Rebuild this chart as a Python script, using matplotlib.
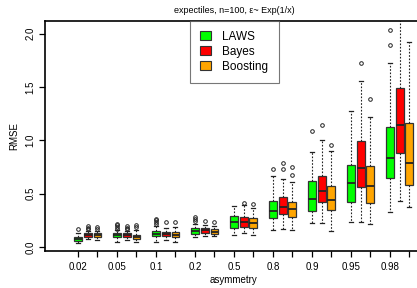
import matplotlib
matplotlib.use('Agg')
import matplotlib.pyplot as plt
from matplotlib.patches import Patch

asym = ['0.02', '0.05', '0.1', '0.2', '0.5', '0.8', '0.9', '0.95', '0.98']
methods = ['LAWS', 'Bayes', 'Boosting']
colors = ['#00ff00', '#ff0000', '#ffa500']

# box stats: lower whisker, q1, median, q3, upper whisker, outliers
laws_lo = [0.035, 0.047, 0.05, 0.097, 0.112, 0.16, 0.222, 0.231, 0.325]
laws_q1 = [0.056, 0.09, 0.106, 0.12, 0.181, 0.275, 0.34, 0.419, 0.65]
laws_med = [0.075, 0.11, 0.125, 0.153, 0.234, 0.34, 0.453, 0.597, 0.831]
laws_q3 = [0.097, 0.128, 0.15, 0.18, 0.288, 0.434, 0.616, 0.771, 1.128]
laws_hi = [0.128, 0.16, 0.2, 0.215, 0.387, 0.665, 0.893, 1.277, 1.727]
laws_out = [[0.166], [0.17, 0.19, 0.205, 0.22], [0.215, 0.235, 0.25, 0.262],
            [0.245, 0.265, 0.28], [], [0.73], [1.087], [], [1.893, 2.034]]

bayes_lo = [0.072, 0.066, 0.066, 0.1, 0.134, 0.166, 0.228, 0.234, 0.428]
bayes_q1 = [0.097, 0.09, 0.106, 0.128, 0.19, 0.309, 0.42, 0.565, 0.878]
bayes_med = [0.11, 0.11, 0.125, 0.155, 0.234, 0.378, 0.528, 0.743, 1.143]
bayes_q3 = [0.128, 0.134, 0.144, 0.178, 0.284, 0.469, 0.665, 0.993, 1.493]
bayes_hi = [0.15, 0.15, 0.18, 0.21, 0.39, 0.634, 1.0, 1.556, 2.3]
bayes_out = [[0.165, 0.18, 0.2], [0.165, 0.18, 0.2], [0.23], [0.246], [0.415],
             [0.73, 0.784], [1.143], [1.727], []]

boost_lo = [0.066, 0.047, 0.05, 0.1, 0.112, 0.16, 0.15, 0.212, 0.378]
boost_q1 = [0.09, 0.075, 0.09, 0.125, 0.175, 0.278, 0.347, 0.415, 0.581]
boost_med = [0.11, 0.09, 0.115, 0.145, 0.222, 0.353, 0.437, 0.572, 0.784]
boost_q3 = [0.128, 0.11, 0.14, 0.169, 0.269, 0.425, 0.575, 0.762, 1.159]
boost_hi = [0.15, 0.16, 0.19, 0.2, 0.37, 0.606, 0.903, 1.221, 1.924]
boost_out = [[0.17, 0.19], [0.19, 0.21], [0.235], [0.23], [0.40],
             [0.675, 0.753], [0.956], [1.384], []]

series = [
    (laws_lo, laws_q1, laws_med, laws_q3, laws_hi, laws_out),
    (bayes_lo, bayes_q1, bayes_med, bayes_q3, bayes_hi, bayes_out),
    (boost_lo, boost_q1, boost_med, boost_q3, boost_hi, boost_out),
]

plt.rcParams['font.family'] = ['Liberation Sans', 'DejaVu Sans']

fig = plt.figure(figsize=(4.17, 2.88), dpi=100)
ax = fig.add_axes([45 / 417, 37 / 288, 378 / 417, 230 / 288])

for j, (lo, q1, med, q3, hi, out) in enumerate(series):
    stats = []
    for k in range(len(asym)):
        stats.append({'whislo': lo[k], 'q1': q1[k], 'med': med[k], 'q3': q3[k],
                      'whishi': hi[k], 'fliers': out[k]})
    pos = [4 * k + j for k in range(len(asym))]
    ax.bxp(stats, positions=pos, widths=0.8, capwidths=0.4, patch_artist=True,
           showfliers=True, manage_ticks=False,
           boxprops=dict(facecolor=colors[j], edgecolor='#333333', linewidth=0.9),
           medianprops=dict(color='#222222', linewidth=1.3),
           whiskerprops=dict(color='#222222', linewidth=0.8, linestyle=(0, (1.5, 1.5))),
           capprops=dict(color='#222222', linewidth=0.9),
           flierprops=dict(marker='o', markersize=2.6, markerfacecolor='none',
                           markeredgecolor='#222222', markeredgewidth=0.7))

ax.set_xlim(-3.38, 35.4)
ax.set_ylim(-0.0375, 2.118)
ax.set_xticks(range(0, 36, 2))
ax.set_xticklabels([asym[t // 4] if t % 4 == 0 else '' for t in range(0, 36, 2)])
ax.set_yticks([0.0, 0.5, 1.0, 1.5, 2.0])
ax.set_yticklabels(['0.0', '0.5', '1.0', '1.5', '2.0'], rotation=90, va='center')
ax.tick_params(axis='both', direction='out', length=4, width=0.9, labelsize=7, pad=3)
ax.tick_params(axis='x', pad=4)
for s in ax.spines.values():
    s.set_linewidth(1.2)

ax.set_xlabel('asymmetry', fontsize=7, labelpad=2)
ax.set_ylabel('RMSE', fontsize=7, labelpad=4)
ax.set_title('expectiles, n=100, \u03b5~ Exp(1/x)', fontsize=6.5, pad=6)

handles = [Patch(facecolor=c, edgecolor='#333333', linewidth=0.8) for c in colors]
leg = ax.legend(handles, methods, loc='upper left', bbox_to_anchor=(0.3836, 1.0),
                fontsize=8.5, frameon=True, fancybox=False, borderaxespad=0,
                handlelength=0.9, handleheight=0.8, handletextpad=1.0,
                labelspacing=0.25, borderpad=0.85)
leg.get_frame().set_edgecolor('#555555')
leg.get_frame().set_linewidth(0.8)

fig.savefig('out.png', dpi=100)
